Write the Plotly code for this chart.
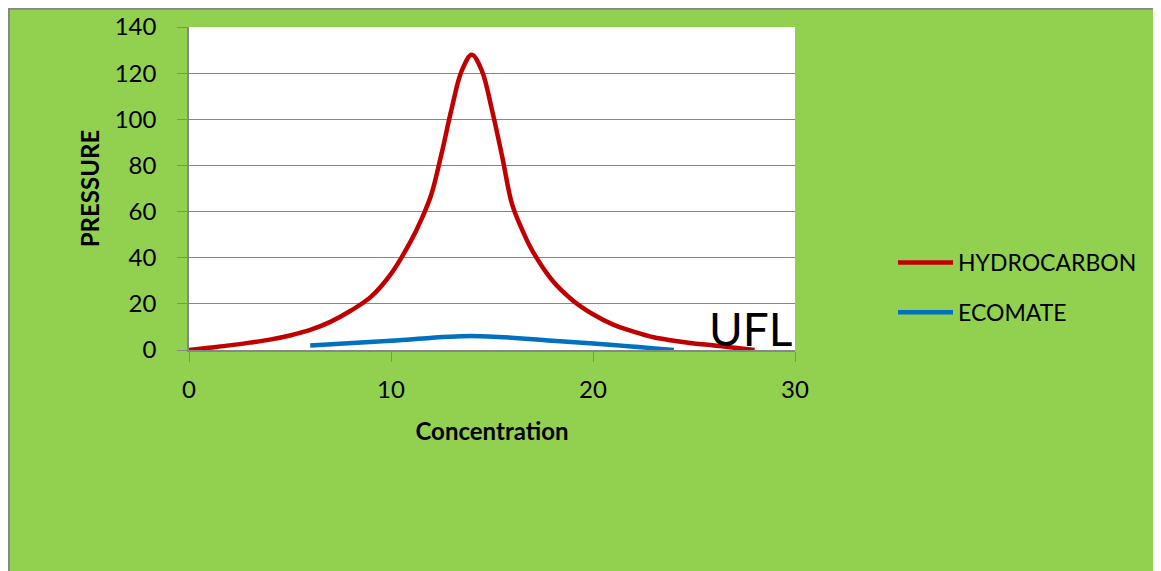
import plotly.graph_objects as go

# ---- data ----
hc_x = [0, 1, 2, 3, 4, 5, 6, 7, 8, 9, 10, 11, 11.5, 12, 12.5, 13, 13.5, 14,
        14.5, 15, 15.5, 16, 16.5, 17, 18, 19, 20, 21, 22, 23, 24, 25, 26, 27, 28]
hc_y = [0, 1, 2, 3.2, 4.5, 6.3, 8.7, 12.2, 17, 23, 33, 47.5, 56.5, 67.5, 85, 104.5, 121, 128,
        121, 104, 84, 63, 52, 43, 30, 21.5, 15.5, 11, 8, 5.5, 4, 2.8, 2, 1, 0]
eco_x = [6, 10, 14, 18, 21, 24]
eco_y = [2, 4, 6.1, 4, 2.2, 0]
x_ticks = [0, 10, 20, 30]
y_ticks = [0, 20, 40, 60, 80, 100, 120, 140]

OFF = 8  # page body margin
W, H = 1161 - OFF, 571 - OFF
L, R, T, B = 189 - OFF, 795 - OFF, 27 - OFF, 350 - OFF  # plot area in figure pixels

def px_x(px):
    return (px - L) / (R - L)

def px_y(py):
    return (B - py) / (B - T)

GREEN = "#92D050"
GRAY = "#878787"
FONT = "Lato"

fig = go.Figure()
fig.add_trace(go.Scatter(x=hc_x, y=hc_y, mode="lines", name="HYDROCARBON",
                         line=dict(color="#C00000", width=4.5, shape="spline", smoothing=1),
                         legendgroup="a"))
fig.add_trace(go.Scatter(x=eco_x, y=eco_y, mode="lines", name="ECOMATE",
                         line=dict(color="#0070C0", width=4.5, shape="spline", smoothing=1),
                         legendgroup="b"))

fig.add_annotation(x=29.95, y=0, xref="x", yref="y", text="UFL", showarrow=False,
                   xanchor="right", yanchor="bottom", yshift=-8,
                   font=dict(family=FONT, size=46, color="black"))

shapes = [
    dict(type="line", xref="paper", yref="paper", x0=px_x(-2), x1=px_x(W + 5),
         y0=px_y(0.5), y1=px_y(0.5), line=dict(color="#868686", width=2.5), layer="above"),
    dict(type="line", xref="paper", yref="paper", x0=px_x(0.5), x1=px_x(0.5),
         y0=px_y(-2), y1=px_y(H + 5), line=dict(color="#868686", width=3), layer="above"),
]

fig.update_layout(
    width=W, height=H,
    margin=dict(l=L, r=W - R, t=T, b=H - B, pad=0, autoexpand=False),
    paper_bgcolor=GREEN, plot_bgcolor="white",
    shapes=shapes,
    showlegend=True,
    legend=dict(x=px_x(893 - OFF), y=px_y(241 - OFF), xanchor="left", yanchor="top",
                font=dict(family=FONT, size=23, color="black"),
                bgcolor="rgba(0,0,0,0)", tracegroupgap=17, itemwidth=55,
                traceorder="grouped"),
    xaxis=dict(range=[0, 30], tickvals=x_ticks, showgrid=False, zeroline=False,
               automargin=False,
               showline=True, linecolor=GRAY, linewidth=1.5,
               ticks="outside", ticklen=10, tickcolor=GRAY, tickwidth=1,
               ticklabelstandoff=7,
               tickfont=dict(family=FONT, size=24, color="black"),
               title=dict(text="<b>Concentration</b>", standoff=22,
                          font=dict(family=FONT, size=24, color="black"))),
    yaxis=dict(range=[0, 140], tickvals=y_ticks, showgrid=True, gridcolor=GRAY, gridwidth=1,
               zeroline=False, automargin=False,
               showline=True, linecolor=GRAY, linewidth=1.5,
               ticks="outside", ticklen=10, tickcolor=GRAY, tickwidth=1,
               ticklabelstandoff=16,
               tickfont=dict(family=FONT, size=24, color="black"),
               title=dict(text="<b>PRESSURE</b>", standoff=8,
                          font=dict(family=FONT, size=24, color="black"))),
)

fig.write_html("out.html")
